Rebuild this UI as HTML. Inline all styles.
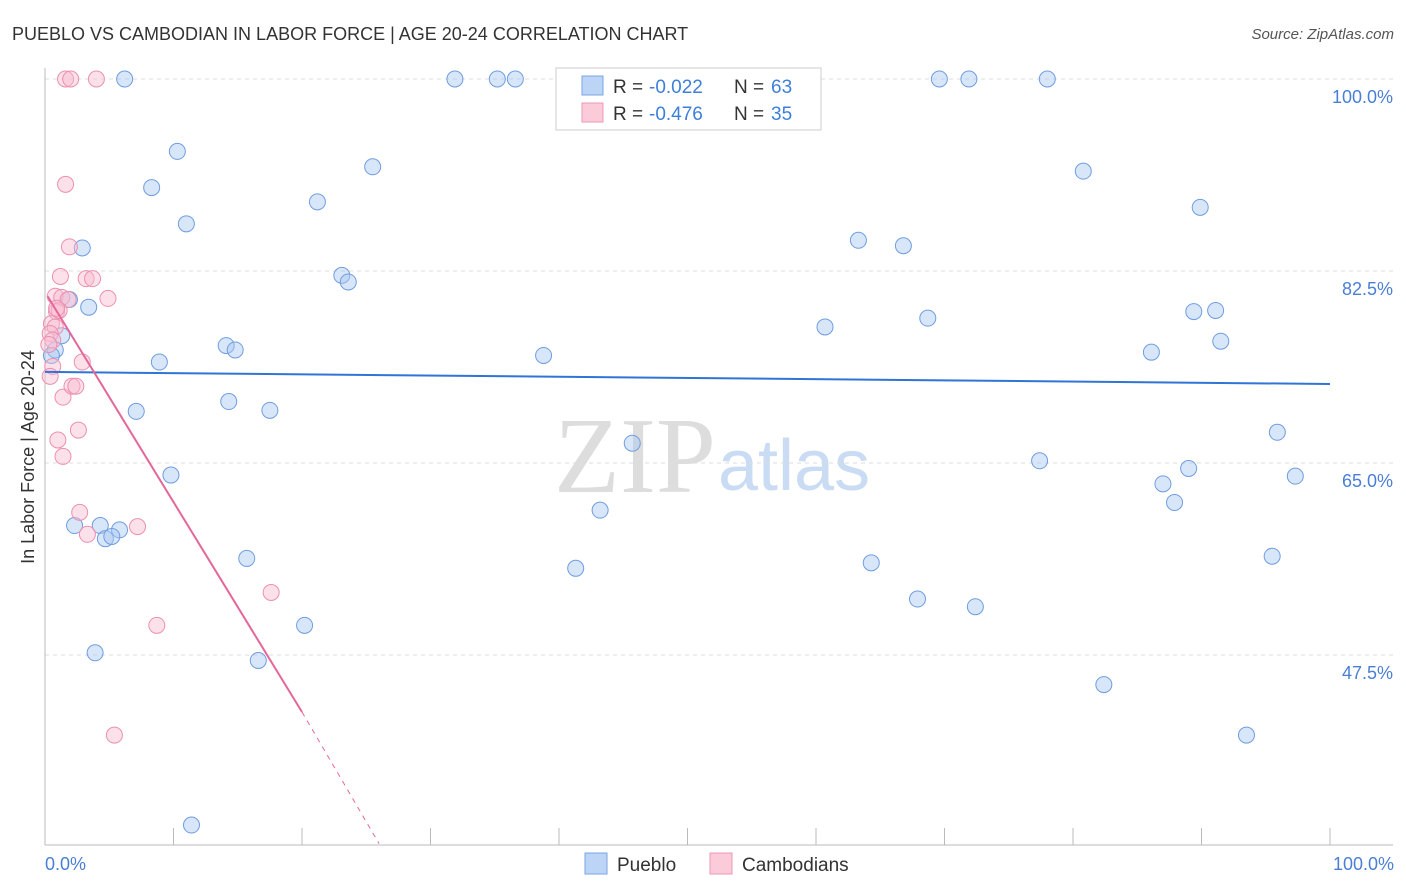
<!DOCTYPE html>
<html><head><meta charset="utf-8"><style>
body{margin:0;background:#fff;font-family:"Liberation Sans",sans-serif;}
svg{display:block}
</style></head><body>
<svg id="c" width="1406" height="892" xmlns="http://www.w3.org/2000/svg">
<text x="12" y="40" font-size="18" fill="#333">PUEBLO VS CAMBODIAN IN LABOR FORCE | AGE 20-24 CORRELATION CHART</text>
<text x="1394" y="39" font-size="15" fill="#555" text-anchor="end" font-style="italic">Source: ZipAtlas.com</text>
<text x="34" y="457" font-size="18" fill="#333" text-anchor="middle" transform="rotate(-90 34 457)">In Labor Force | Age 20-24</text>
<text x="716" y="492" font-size="108" fill="#ddd" text-anchor="end" font-family="Liberation Serif,serif">ZIP</text>
<text x="718" y="490" font-size="72" fill="#c9dcf3">atlas</text>
<g id="grid"></g><g id="marks"></g>
<text x="45" y="870" font-size="18" fill="#4a7fd4">0.0%</text>
<text x="1394" y="870" font-size="18" fill="#4a7fd4" text-anchor="end">100.0%</text>
<g>
<rect x="556" y="68" width="265" height="62" fill="#fff" stroke="#ccc"/>
<rect x="582" y="76" width="21" height="19" fill="#bcd4f5" stroke="#7aa6e6"/>
<rect x="582" y="103" width="21" height="19" fill="#fbcbda" stroke="#ee9ab5"/>
<text x="613" y="93" font-size="19" fill="#333">R =</text>
<text x="649" y="93" font-size="19" fill="#3d7fd9">-0.022</text>
<text x="734" y="93" font-size="19" fill="#333">N =</text>
<text x="771" y="93" font-size="19" fill="#3d7fd9">63</text>
<text x="613" y="120" font-size="19" fill="#333">R =</text>
<text x="649" y="120" font-size="19" fill="#3d7fd9">-0.476</text>
<text x="734" y="120" font-size="19" fill="#333">N =</text>
<text x="771" y="120" font-size="19" fill="#3d7fd9">35</text>
</g>
<g>
<rect x="585" y="853" width="22" height="21" fill="#bcd4f5" stroke="#7aa6e6"/>
<text x="617" y="871" font-size="19" fill="#333">Pueblo</text>
<rect x="710" y="853" width="22" height="21" fill="#fbcbda" stroke="#ee9ab5"/>
<text x="742" y="871" font-size="19" fill="#333">Cambodians</text>
</g>
</svg>
<script>
const yTicks=[100,82.5,65,47.5];
const yTickLabels=["100.0%","82.5%","65.0%","47.5%"];
const xTicks=[0,10,20,30,40,50,60,70,80,90,100];
const puebloPx=[[125,79],[455,79],[497,79],[515,79],[940,79],[969,79],[1047,79],[177,151],[152,188],[373,167],[318,202],[186,224],[82,248],[1083,171],[1200,207],[859,240],[903,246],[342,275],[348,282],[69,300],[89,307],[825,327],[928,318],[1194,312],[1215,311],[62,336],[1221,341],[55,350],[52,355],[226,346],[235,350],[543,355],[1151,352],[160,362],[229,402],[270,410],[136,411],[632,443],[1277,432],[171,475],[1039,461],[1189,468],[1163,484],[1174,502],[1295,476],[600,510],[74,526],[100,526],[119,530],[106,539],[112,537],[247,558],[576,568],[871,563],[1272,556],[918,599],[975,607],[305,625],[95,653],[258,661],[1104,685],[1247,735],[192,825]];
const cambPx=[[66,79],[71,79],[97,79],[66,184],[70,247],[60,276],[86,279],[93,279],[55,296],[62,297],[68,300],[108,298],[56,312],[59,311],[52,324],[55,327],[50,334],[53,340],[49,345],[82,362],[53,366],[50,376],[63,397],[72,386],[76,386],[78,430],[58,440],[63,456],[80,512],[137,527],[88,534],[271,592],[157,625],[114,735],[57,308]];
const puebloX=puebloPx.map(p=>+((p[0]-45)/12.85).toFixed(1));
const puebloY=puebloPx.map(p=>+(100-(p[1]-79)/10.971).toFixed(1));
const cambX=cambPx.map(p=>+((p[0]-45)/12.85).toFixed(1));
const cambY=cambPx.map(p=>+(100-(p[1]-79)/10.971).toFixed(1));
const puebloTrend=[[0,73.3],[100,72.2]];
const cambTrend=[[0.2,80.2],[20,42.3],[26,30.3]];
const X=v=>45+v*12.85, Y=v=>79+(100-v)*10.971;
const NS="http://www.w3.org/2000/svg";
function mk(t,a,p){const e=document.createElementNS(NS,t);for(const k in a)e.setAttribute(k,a[k]);p.appendChild(e);return e;}
const g=document.getElementById('grid'), m=document.getElementById('marks');
yTicks.forEach((t,i)=>{
 const l=mk('line',{x1:45,x2:1393,y1:Y(t),y2:Y(t),stroke:'#ddd','stroke-dasharray':'4,4'},g);
 
 
 const tx=mk('text',{x:1393,y:Y(t)+24,'font-size':18,fill:'#4a7fd4','text-anchor':'end'},g);
 tx.textContent=yTickLabels[i];
 
 
});
const ax=mk('line',{x1:45,x2:45,y1:68,y2:845,stroke:'#bbb'},g);


const bx=mk('line',{x1:45,x2:1393,y1:845,y2:845,stroke:'#bbb'},g);


xTicks.forEach(t=>{const l=mk('line',{x1:X(t),x2:X(t),y1:828,y2:845,stroke:'#bbb'},g);
 
 });
function pts(xs,ys,fill,stroke,name){xs.forEach((x,i)=>{const c=mk('circle',{cx:X(x),cy:Y(ys[i]),r:8,fill:fill,'fill-opacity':0.45,stroke:stroke,'stroke-width':1},m);
 
 });}
pts(puebloX,puebloY,'#a9c7f2','#6f9de0','pueblo-point');
pts(cambX,cambY,'#f9bdd0','#ec90b0','cambodian-point');
const pl=mk('line',{x1:X(puebloTrend[0][0]),y1:Y(puebloTrend[0][1]),x2:X(puebloTrend[1][0]),y2:Y(puebloTrend[1][1]),stroke:'#2f74d6','stroke-width':2},m);


const cl=mk('line',{x1:X(cambTrend[0][0]),y1:Y(cambTrend[0][1]),x2:X(cambTrend[1][0]),y2:Y(cambTrend[1][1]),stroke:'#e4679a','stroke-width':2},m);


const cd=mk('line',{x1:X(cambTrend[1][0]),y1:Y(cambTrend[1][1]),x2:X(cambTrend[2][0]),y2:Y(cambTrend[2][1]),stroke:'#e4679a','stroke-width':1,'stroke-dasharray':'5,5'},m);


</script>
</body></html>
